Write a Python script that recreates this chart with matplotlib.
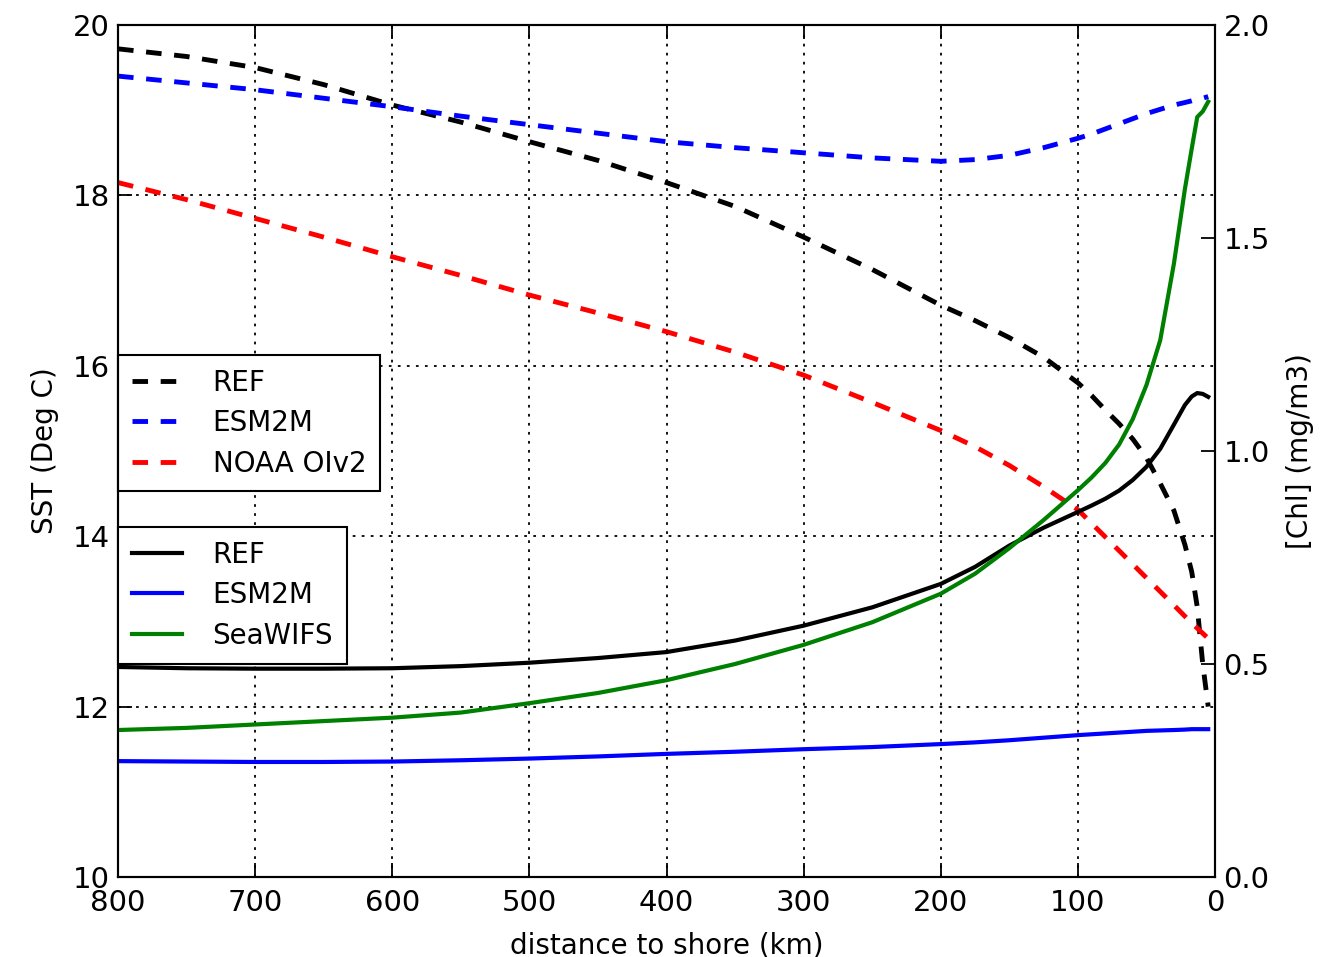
import matplotlib.pyplot as plt
import numpy as np

# distance to shore (km)
dist = [800, 750, 700, 650, 600, 550, 500, 450, 400, 350, 300, 250, 200, 175,
        150, 125, 100, 90, 80, 70, 60, 50, 40, 30, 22, 17, 13, 9, 5]

# SST (Deg C)
sst_ref = [19.72, 19.63, 19.50, 19.30, 19.06, 18.86, 18.63, 18.41, 18.15, 17.87,
           17.51, 17.13, 16.71, 16.53, 16.33, 16.10, 15.80, 15.65, 15.48, 15.32,
           15.14, 14.92, 14.62, 14.30, 13.90, 13.58, 13.17, 12.50, 12.00]
sst_esm = [19.40, 19.32, 19.24, 19.14, 19.04, 18.93, 18.83, 18.73, 18.63, 18.56,
           18.50, 18.44, 18.40, 18.42, 18.47, 18.56, 18.67, 18.72, 18.78, 18.84,
           18.90, 18.96, 19.01, 19.06, 19.09, 19.11, 19.13, 19.14, 19.16]
sst_noaa = [18.15, 17.95, 17.73, 17.51, 17.28, 17.06, 16.83, 16.62, 16.40, 16.16,
            15.89, 15.57, 15.24, 15.05, 14.83, 14.58, 14.31, 14.15, 13.99, 13.83,
            13.67, 13.51, 13.35, 13.19, 13.06, 12.98, 12.92, 12.86, 12.80]

# [Chl] (mg/m3)
chl_ref = [0.493, 0.490, 0.489, 0.489, 0.490, 0.495, 0.503, 0.514, 0.528, 0.555,
           0.590, 0.633, 0.688, 0.728, 0.778, 0.820, 0.857, 0.872, 0.888, 0.907,
           0.932, 0.963, 1.005, 1.062, 1.108, 1.128, 1.136, 1.134, 1.127]
chl_esm = [0.272, 0.271, 0.270, 0.270, 0.271, 0.274, 0.278, 0.283, 0.289, 0.294,
           0.300, 0.305, 0.312, 0.316, 0.321, 0.327, 0.333, 0.335, 0.337, 0.339,
           0.341, 0.343, 0.344, 0.345, 0.346, 0.347, 0.347, 0.347, 0.347]
chl_sea = [0.345, 0.350, 0.358, 0.366, 0.374, 0.386, 0.408, 0.432, 0.462, 0.500,
           0.545, 0.598, 0.665, 0.712, 0.772, 0.838, 0.908, 0.938, 0.972, 1.015,
           1.075, 1.155, 1.260, 1.440, 1.615, 1.710, 1.784, 1.797, 1.820]

plt.rcParams['font.family'] = 'DejaVu Sans'
plt.rcParams['font.size'] = 20

fig, ax = plt.subplots(figsize=(13.31, 9.57), dpi=100)
fig.subplots_adjust(left=0.0887, right=0.9129, top=0.9739, bottom=0.0836)
ax2 = ax.twinx()

# SST on the left axis, dashed
dash = (3.2, 2.6)
ax.plot(dist, sst_ref, color='k', lw=3.5, dashes=dash, label='REF')
ax.plot(dist, sst_esm, color='b', lw=3.5, dashes=dash, label='ESM2M')
ax.plot(dist, sst_noaa, color='r', lw=3.5, dashes=dash, label='NOAA OIv2')

# chlorophyll on the right axis, solid
ax2.plot(dist, chl_ref, color='k', lw=3, label='REF')
ax2.plot(dist, chl_esm, color='b', lw=3, label='ESM2M')
ax2.plot(dist, chl_sea, color='g', lw=3, label='SeaWIFS')

ax.set_xlim(800, 0)
ax.set_ylim(10, 20)
ax2.set_ylim(0, 2.0)
ax.set_xticks(np.arange(800, -1, -100))
ax.set_yticks(np.arange(10, 21, 2))
ax2.set_yticks(np.arange(0, 2.01, 0.5))
ax2.set_yticklabels([f"{v:.1f}" for v in np.arange(0, 2.01, 0.5)])

ax.set_xlabel('distance to shore (km)', labelpad=10)
ax.set_ylabel('SST (Deg C)', labelpad=10)
ax2.set_ylabel('[Chl] (mg/m3)', labelpad=12)

ax.grid(True, color='k', lw=1.3, linestyle=(0, (1.5, 3.5)))
ax.tick_params(direction='in', length=10, width=1.3, top=True, labelsize=21)
ax.tick_params(axis='x', pad=9)
ax.tick_params(axis='y', pad=6)
ax2.tick_params(direction='in', length=10, width=1.3, labelsize=21, pad=6)
for a in (ax, ax2):
    for s in a.spines.values():
        s.set_linewidth(1.5)

leg_kw = dict(loc='upper left', borderaxespad=0, fancybox=False, framealpha=1,
              edgecolor='k', handlelength=1.8, handletextpad=1.1,
              labelspacing=0.45, borderpad=0.5, fontsize=20)
leg1 = ax.legend(bbox_to_anchor=(0, 0.613), **leg_kw)
leg1.get_frame().set_linewidth(1.5)
leg2 = ax2.legend(bbox_to_anchor=(0, 0.411), **leg_kw)
leg2.get_frame().set_linewidth(1.5)

fig.savefig('out.png')
